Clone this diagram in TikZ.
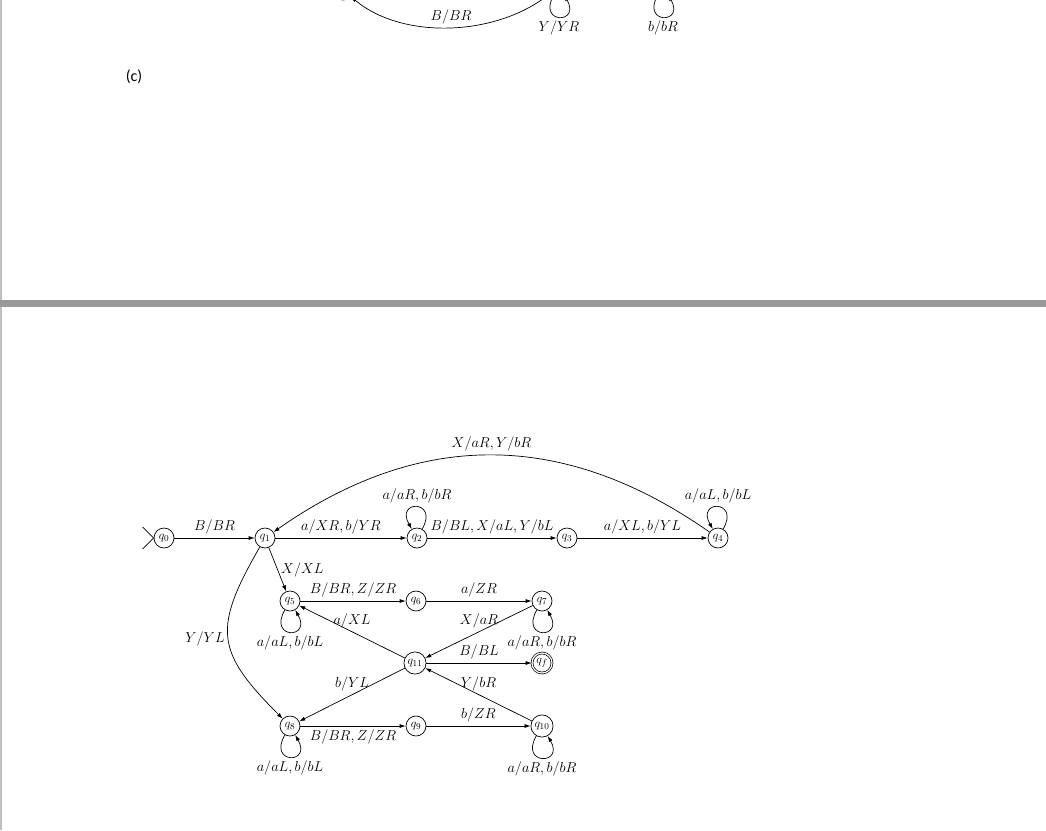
\documentclass[tikz,border=0pt]{standalone}
\usepackage{amsmath}
\usepackage{amsfonts}
\usepackage{amssymb}
\usepackage{fontspec}
\newfontfamily\capfont{Carlito}
\usepackage{tikz}
\usetikzlibrary{arrows.meta}

\begin{document}
\begin{tikzpicture}
				[x=1pt,y=-1pt,line width=.7pt,>={Latex[length=6pt,width=4pt]},
				every node/.style={font=\fontsize{15}{18}\selectfont},
				state/.style={circle,draw,minimum size=20pt,inner sep=2pt,font=\fontsize{13}{14}\selectfont}]
				\clip (0,0) rectangle (1046,830);
				\fill[white] (0,0) rectangle (1046,830);
				\draw[line width=2pt,black!25] (1,0) -- (1,830);
				\fill[black!40] (0,300) rectangle (1046,307);
				
				% upper diagram, cut off by the page
				\node[state] (r1) at (343,-10) {};
				\node[state] (r2) at (559,-14) {};
				\node[state] (r3) at (663,-14) {};
				\draw[->] (r2) to[out=220,in=320,looseness=.87] node[above] {$B/BR$} (r1);
				\node[font=\capfont\fontsize{16}{18}\selectfont] (cap) at (134,77) {(c)};
				
				% lower diagram
				\node[state] (q0) at (164,538) {$q_0$};
				\node[state] (q1) at (265,538) {$q_1$};
				\node[state] (q2) at (417,538) {$q_2$};
				\node[state] (q3) at (567,538) {$q_3$};
				\node[state] (q4) at (718,538) {$q_4$};
				\node[state] (q5) at (290,601) {$q_5$};
				\node[state] (q6) at (416,601) {$q_6$};
				\node[state] (q7) at (542,601) {$q_7$};
				\node[state] (q11) at (415,663) {$q_{11}$};
				\node[state,double,double distance=1.2pt] (qf) at (542,663) {$q_f$};
				\node[state] (q8) at (290,726) {$q_8$};
				\node[state] (q9) at (416,726) {$q_9$};
				\node[state] (q10) at (542,726) {$q_{10}$};
				
				\draw (q0.west) -- +(-11,-11) (q0.west) -- +(-11,11);
				
				\foreach \from/\to/\lab/\side in {q0/q1/{B/BR}/above,q1/q2/{a/XR,b/YR}/above,
					q2/q3/{B/BL,X/aL,Y/bL}/above,q3/q4/{a/XL,b/YL}/above,q1/q5/{X/XL}/right,
					q5/q6/{B/BR,Z/ZR}/above,q6/q7/{a/ZR}/above,q7/q11/{X/aR}/above,
					q11/q5/{a/XL}/above,q11/qf/{B/BL}/above,q11/q8/{b/YL}/above,
					q10/q11/{Y/bR}/above,q8/q9/{B/BR,Z/ZR}/below,q9/q10/{b/ZR}/above}
				\draw[->] (\from) -- node[\side] {$\lab$} (\to);
				
				\draw[->] (q4) to[out=145,in=35,looseness=1.05] node[above] {$X/aR,Y/bR$} (q1);
				\draw[->] (q1) to[out=240,in=135,looseness=1.4] node[left] {$Y/YL$} (q8);
				
				% loops
				\foreach \st/\lab in {q2/{a/aR,b/bR},q4/{a/aL,b/bL}}
				\draw[->] (\st.60) .. controls +(60:34pt) and +(120:34pt) .. node[above] {$\lab$} (\st.120);
				\foreach \st/\lab in {q5/{a/aL,b/bL},q7/{a/aR,b/bR},q8/{a/aL,b/bL},
					q10/{a/aR,b/bR},r2/{Y/YR},r3/{b/bR}}
				\draw[->] (\st.240) .. controls +(240:34pt) and +(300:34pt) .. node[below] {$\lab$} (\st.300);
				
\end{tikzpicture}
\end{document}
